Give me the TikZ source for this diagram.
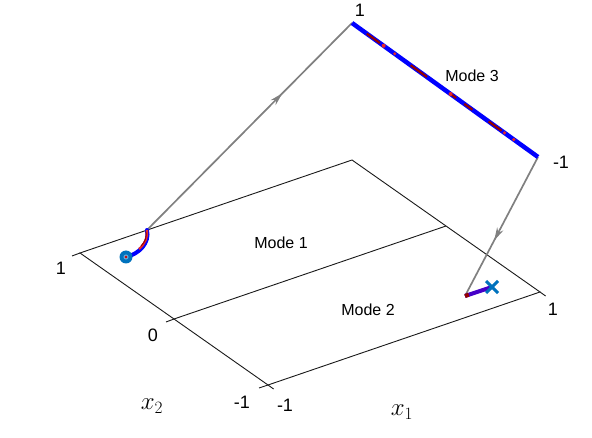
\documentclass[tikz,border=0pt]{standalone}
\usepackage{fontspec}
\setmainfont{Liberation Sans}
\usetikzlibrary{decorations.markings,arrows.meta,calc}
\definecolor{mblue}{RGB}{0,114,189}
\definecolor{tblue}{RGB}{0,0,255}
\definecolor{tpurple}{RGB}{70,0,200}
\definecolor{dred}{RGB}{150,0,0}
\definecolor{lred}{RGB}{230,40,40}
\begin{document}
\begin{tikzpicture}[x=1pt,y=-1pt,
  planeline/.style={draw=black!90,line width=0.9pt},
  ticklbl/.style={font=\fontsize{18}{21}\selectfont},
  modelbl/.style={font=\fontsize{16}{19}\selectfont},
  axlbl/.style={font=\fontsize{27}{30}\selectfont},
  jump/.style={draw=black!50,line width=1.7pt,postaction={decorate},
    decoration={markings,mark=at position #1 with {\arrow{Stealth[length=13pt,width=7pt]}}}}
]
\useasboundingbox (0,0) rectangle (592,438);
% plane corners
\coordinate (A) at (80,253);
\coordinate (B) at (268,385);
\coordinate (C) at (540,292);
\coordinate (D) at (352,160);
\coordinate (M1) at (174,319);
\coordinate (M2) at (446,226);
\draw[planeline] (A) -- (B) -- (C) -- (D) -- cycle;
\draw[planeline] (M1) -- (M2);
% ticks
\draw[planeline] (A) -- ++(-8,3);
\draw[planeline] (M1) -- ++(-8,3);
\draw[planeline] (B) -- ++(-9,3);
\draw[planeline] (B) -- ++(5.6,4);
\draw[planeline] (C) -- ++(5.6,4);
% tick labels
\node[ticklbl] (t2a) at (61,268) {1};
\node[ticklbl] (t2b) at (153,335) {0};
\node[ticklbl] (t2c) at (242,402) {-1};
\node[ticklbl] (t1a) at (285,405) {-1};
\node[ticklbl] (t1b) at (553,309) {1};
\node[axlbl] (x2l) at (152,406) {$x_2$};
\node[axlbl] (x1l) at (402,412) {$x_1$};
% mode labels
\node[modelbl] (m1) at (281,243) {Mode 1};
\node[modelbl] (m2) at (368,310) {Mode 2};
\node[modelbl] (m3) at (472,76) {Mode 3};
% mode 3 line
\coordinate (P) at (352,23);
\coordinate (Q) at (538,157);
\node[ticklbl] (t3a) at (360,10) {1};
\node[ticklbl] (t3b) at (561,162) {-1};
% jumps
\coordinate (S1) at (147,230);
\coordinate (E2) at (465,296);
\draw[jump=0.66] (S1) -- (P);
\draw[jump=0.6] (Q) -- (E2);
% mode 3 trajectory
\draw[tblue,line width=4.5pt] (P) -- (Q);
\draw[dred,line width=2.2pt,dash pattern=on 16pt off 38pt on 20pt off 28pt on 8pt off 10pt on 10pt off 20pt] ($(P)!0.08!(Q)$) -- ($(P)!0.97!(Q)$);
\fill[lred] ($(P)!0.17!(Q)$) circle (2);
\fill[lred] ($(P)!0.23!(Q)$) circle (1.6);
\fill[lred] ($(P)!0.53!(Q)$) circle (2);
\fill[lred] ($(P)!0.82!(Q)$) circle (1.8);
\fill[lred] ($(P)!0.87!(Q)$) circle (1.8);
% mode 1 trajectory
\coordinate (S0) at (126,257);
\draw[tblue,line width=4pt,line cap=round] (S0) .. controls (139,254) and (150,243) .. (S1);
\draw[lred,line width=2.2pt] (139,249) .. controls (145,244) and (148,237) .. (S1);
\draw[dred,line width=0.9pt] (141,246) .. controls (145,242) and (147,237) .. (146,232);
\fill[mblue] (S0) circle (6.5);
\fill[mblue!60] (S0) circle (2.6);
\fill[red!80!black] (S0) circle (1.4);
% mode 2 trajectory
\coordinate (F) at (492,287);
\draw[tpurple,line width=4pt] (E2) -- (F);
\draw[dred,line width=4pt] (E2) -- ($(E2)!0.14!(F)$);
\draw[mblue,line width=3pt] ($(F)+(-6,-6)$) -- ($(F)+(6,6)$);
\draw[mblue,line width=3pt] ($(F)+(-6,6)$) -- ($(F)+(6,-6)$);
\end{tikzpicture}
\end{document}
